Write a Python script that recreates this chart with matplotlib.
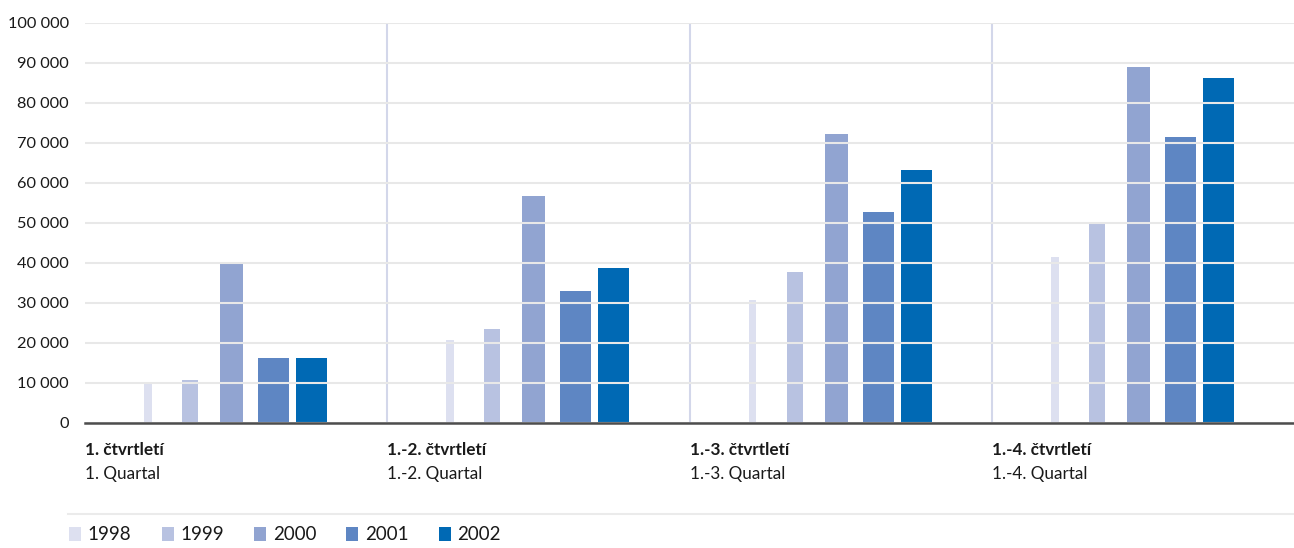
import numpy as np
import matplotlib.pyplot as plt
from matplotlib.patches import Patch
from matplotlib.lines import Line2D

plt.rcParams['font.family'] = ['Lato', 'DejaVu Sans']

# Data: cumulative quarterly values by year
groups_cz = ['1. čtvrtletí', '1.-2. čtvrtletí', '1.-3. čtvrtletí', '1.-4. čtvrtletí']
groups_de = ['1. Quartal', '1.-2. Quartal', '1.-3. Quartal', '1.-4. Quartal']
years = ['1998', '1999', '2000', '2001', '2002']
v1998 = [10000, 20750, 30750, 41500]
v1999 = [10750, 23500, 37750, 50200]
v2000 = [39900, 56750, 72250, 89000]
v2001 = [16250, 33000, 52750, 71500]
v2002 = [16250, 38750, 63250, 86250]
series = [v1998, v1999, v2000, v2001, v2002]

colors = ['#dde0f0', '#b8c2e1', '#91a4d1', '#5e86c3', '#0069b4']
widths = [8, 16, 23, 31, 31]  # bar widths in pixels
group_px = 302.25

fig = plt.figure(figsize=(12.94, 5.48), dpi=100)
ax = fig.add_axes([85 / 1294, 1 - 423 / 548, 1209 / 1294, 400 / 548])

x = np.arange(len(groups_cz))
for i, (vals, c, w) in enumerate(zip(series, colors, widths)):
    left = x + (59 + 38 * i) / group_px
    ax.bar(left, vals, width=w / group_px, align='edge', color=c, zorder=2)

ax.set_xlim(0, 4)
ax.set_ylim(0, 100000)
ax.set_yticks(np.arange(0, 100001, 10000))
ax.set_yticklabels([f'{int(v):,}'.replace(',', ' ') for v in ax.get_yticks()],
                   fontsize=11.8, color='#1a1a1a')
ax.tick_params(axis='y', length=0, pad=11.5)
ax.set_xticks([])
ax.yaxis.grid(True, color='#e8e8e8', linewidth=1.5, zorder=3)
ax.set_axisbelow(False)
for s in ax.spines.values():
    s.set_visible(False)

# group dividers
for gx in [1, 2, 3]:
    ax.axvline(gx, color='#d3d7ea', linewidth=1.5, zorder=1)
ax.axhline(0, color='#4d4d4d', linewidth=1.8, zorder=4, clip_on=False)

# group labels
for i in range(len(groups_cz)):
    ax.text(i, -6700, groups_cz[i], fontsize=12.3, fontweight='bold',
            color='#1a1a1a', va='center', ha='left')
    ax.text(i, -12700, groups_de[i], fontsize=12.3,
            color='#1a1a1a', va='center', ha='left')

# separator above the legend
fig.add_artist(Line2D([68 / 1294, 1], [1 - 514 / 548] * 2, color='#ebebeb', linewidth=1.5))

handles = [Patch(facecolor=c, edgecolor='none') for c in colors]
fig.legend(handles, years, loc='center left', bbox_to_anchor=(56 / 1294, 1 - 535 / 548),
           ncol=5, frameon=False, fontsize=13.5, handlelength=0.65, handleheight=0.75,
           handletextpad=0.35, columnspacing=1.6, labelcolor='#1a1a1a',
           borderpad=0.2)

fig.savefig('out.png', dpi=100)
